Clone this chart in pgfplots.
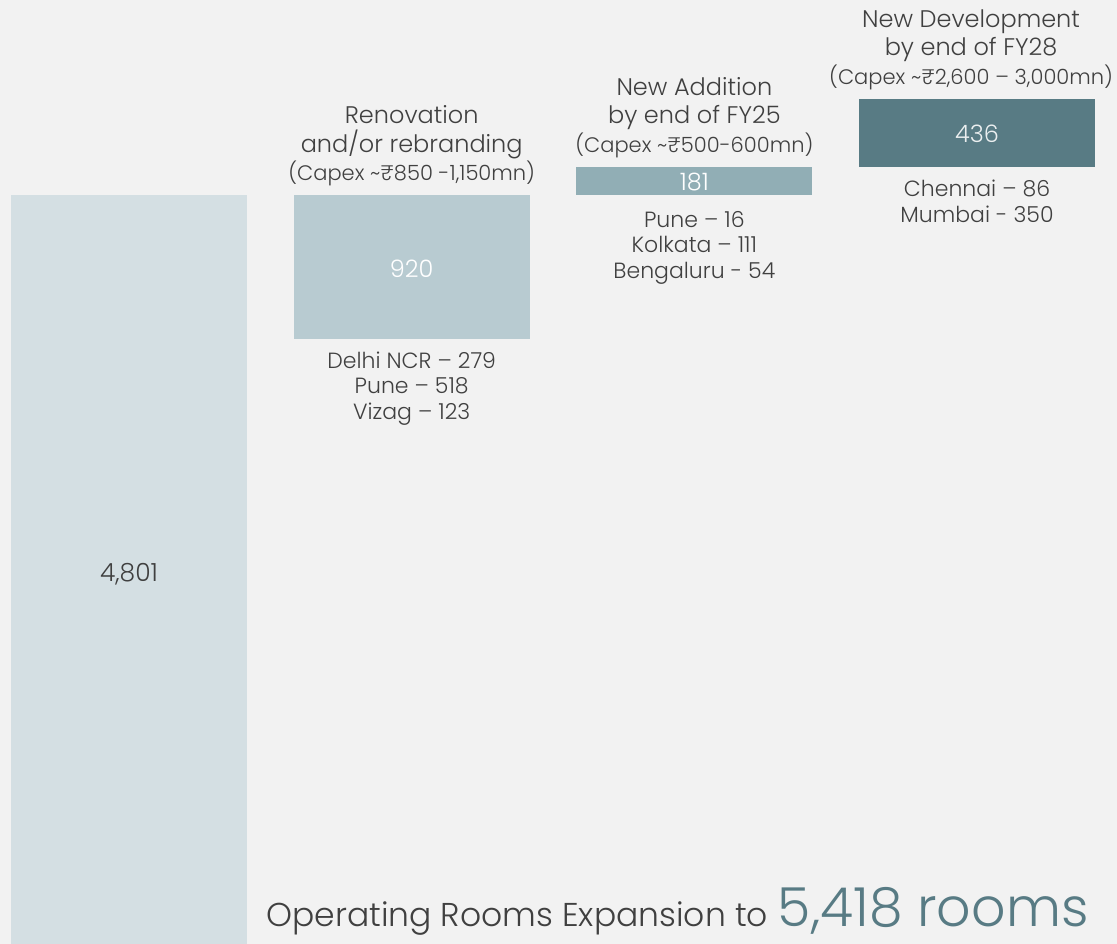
\documentclass[border=0pt]{standalone}
\usepackage{pgfplots}
\pgfplotsset{compat=1.18}
\usepackage{fontspec}
\setmainfont{Poppins}[UprightFont={* Light}]
\definecolor{bgc}{HTML}{F2F2F2}
\definecolor{txt}{HTML}{404040}
\definecolor{c1}{HTML}{D4DFE3}
\definecolor{c2}{HTML}{B8CBD1}
\definecolor{c3}{HTML}{91AEB5}
\definecolor{c4}{HTML}{587B84}

\begin{document}
\begin{tikzpicture}
\begin{axis}[
  scale only axis,
  width=558.5pt, height=472pt,
  xmin=-0.4564, xmax=3.4952,
  ymin=0, ymax=6051,
  axis lines=none,
  ticks=none,
  axis background/.style={fill=bgc},
  ybar stacked,
  bar width=0.835,
  clip=false,
]
% invisible base of the floating bars
\addplot[fill=none, draw=none] coordinates {(0,0) (1,3881) (2,4801) (3,4982)};
\addplot[fill=c1, draw=none] coordinates {(0,4801) (1,0) (2,0) (3,0)};
\addplot[fill=c2, draw=none] coordinates {(0,0) (1,920) (2,0) (3,0)};
\addplot[fill=c3, draw=none] coordinates {(0,0) (1,0) (2,181) (3,0)};
\addplot[fill=c4, draw=none] coordinates {(0,0) (1,0) (2,0) (3,436)};

% anchor points for the labels
\coordinate (v1) at (axis cs:0,2400);
\coordinate (v2) at (axis cs:1,4341);
\coordinate (v3) at (axis cs:2,4891);
\coordinate (v4) at (axis cs:3,5200);
\coordinate (t2) at (axis cs:1,4801);
\coordinate (t3) at (axis cs:2,4982);
\coordinate (t4) at (axis cs:2.979,5418);
\coordinate (b2) at (axis cs:1,3881);
\coordinate (b3) at (axis cs:2,4801);
\coordinate (b4) at (axis cs:3,4982);
\coordinate (ft) at (axis cs:0.4847,115);
\end{axis}

% values inside bars
\node[text=txt, yshift=-2.5pt, font=\fontsize{12.5}{14}\selectfont] at (v1) {4,801};
\node[text=white, yshift=-1pt, font=\fontsize{12}{14}\selectfont] at (v2) {920};
\node[text=white, yshift=-0.5pt, font=\fontsize{12}{14}\selectfont] at (v3) {181};
\node[text=white!88!c4, yshift=-0.5pt, font=\fontsize{12}{14}\selectfont] at (v4) {436};

% headings
\node[anchor=south, align=center, inner sep=0pt, text=txt, yshift=4.3pt, font=\fontsize{12}{14.25}\selectfont]
  at (t2) {Renovation\\and/or rebranding\\{\fontsize{10.5}{14.25}\selectfont (Capex \textasciitilde₹850 -1,150mn)}};
\node[anchor=south, align=center, inner sep=0pt, text=txt, yshift=4.3pt, font=\fontsize{12}{14.25}\selectfont]
  at (t3) {New Addition\\by end of FY25\\{\fontsize{10.5}{14.25}\selectfont (Capex \textasciitilde₹500-600mn)}};
\node[anchor=south, align=center, inner sep=0pt, text=txt, yshift=4.3pt, font=\fontsize{12}{14.25}\selectfont]
  at (t4) {New Development\\by end of FY28\\{\fontsize{10.5}{14.25}\selectfont (Capex \textasciitilde₹2,600 – 3,000mn)}};

% city breakdown
\node[anchor=north, align=center, inner sep=0pt, text=txt, yshift=-6.5pt, font=\fontsize{11}{12.75}\selectfont]
  at (b2) {Delhi NCR – 279\\Pune – 518\\Vizag – 123};
\node[anchor=north, align=center, inner sep=0pt, text=txt, yshift=-8pt, font=\fontsize{11}{12.75}\selectfont]
  at (b3) {Pune – 16\\Kolkata – 111\\Bengaluru - 54};
\node[anchor=north, align=center, inner sep=0pt, text=txt, yshift=-6.5pt, font=\fontsize{11}{12.75}\selectfont]
  at (b4) {Chennai – 86\\Mumbai - 350};

% footer
\node[anchor=base west, inner sep=0pt, text=txt] at (ft)
  {\fontsize{16.5}{18}\selectfont Operating Rooms Expansion to\hspace{5pt}{\fontsize{26.9}{28}\selectfont\color{c4}5,418 rooms}};
\end{tikzpicture}
\end{document}
